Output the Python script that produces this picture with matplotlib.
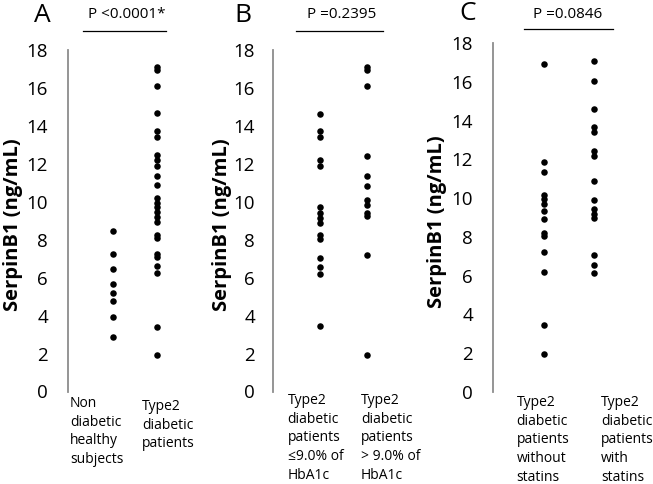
import matplotlib
matplotlib.use("Agg")
import matplotlib.pyplot as plt

# values (ng/mL)
a_non_diabetic = [8.45, 7.25, 6.45, 5.65, 5.2, 4.75, 3.95, 2.85]
a_type2 = [17.1, 16.95, 16.1, 14.7, 13.75, 13.4, 12.45, 12.2, 11.9, 11.35,
           10.9, 10.2, 9.95, 9.7, 9.45, 9.2, 8.95, 8.25, 8.1, 7.25, 7.1,
           6.6, 6.25, 3.4, 1.9]
b_low_hba1c = [14.65, 13.75, 13.4, 12.2, 11.9, 9.7, 9.4, 9.15, 8.9, 8.25,
               8.05, 7.05, 6.55, 6.2, 3.45]
b_high_hba1c = [17.1, 16.95, 16.1, 12.4, 11.35, 10.85, 10.1, 9.85, 9.4,
                9.25, 7.2, 1.9]
c_without = [16.9, 11.85, 11.35, 10.15, 9.95, 9.7, 9.35, 8.9, 8.2, 8.05,
             7.2, 6.2, 3.45, 1.95]
c_with = [17.05, 16.05, 14.6, 13.65, 13.4, 12.45, 12.15, 10.9, 9.9, 9.45,
          9.2, 8.95, 7.05, 6.55, 6.15]

panel_letters = ["A", "B", "C"]
p_values = ["P <0.0001*", "P =0.2395", "P =0.0846"]
group_labels = [
    ["Non\ndiabetic\nhealthy\nsubjects", "Type2\ndiabetic\npatients"],
    ["Type2\ndiabetic\npatients\n\u22649.0% of\nHbA1c",
     "Type2\ndiabetic\npatients\n> 9.0% of\nHbA1c"],
    ["Type2\ndiabetic\npatients\nwithout\nstatins",
     "Type2\ndiabetic\npatients\nwith\nstatins"],
]
yticks = [0, 2, 4, 6, 8, 10, 12, 14, 16, 18]

plt.rcParams['font.family'] = ['Open Sans', 'DejaVu Sans']

W, H = 653, 484
fig = plt.figure(figsize=(W / 100, H / 100), dpi=100)


def fx(x):
    return x / W


def fy(y):
    return 1 - y / H


# axes boxes in pixels: left, top(18), right, bottom(0)
boxes = [(68, 50, 202, 391.5), (272.7, 50, 413.7, 391.5), (493, 43, 644.5, 392)]
tick_pads = [14.4, 12.7, 14.4]
ylabel_x = [13, 222, 437]
letter_pos = [(42, 16), (243, 16), (468, 14)]
pval_pos = [(127, 15), (342, 15), (568, 14)]
pline = [(83, 166, 31), (296, 383, 31), (524, 613, 29)]
label_pos = [[(70, 396), (142, 399)], [(287.5, 393), (361, 393)],
             [(516.5, 395), (601, 395)]]
data = [(a_non_diabetic, a_type2), (b_low_hba1c, b_high_hba1c),
        (c_without, c_with)]

for i, (l, t, r, b) in enumerate(boxes):
    ax = fig.add_axes([fx(l), fy(b), (r - l) / W, (b - t) / H])
    g1, g2 = data[i]
    ax.scatter([1] * len(g1), g1, s=22, color='black', linewidths=0, zorder=3)
    ax.scatter([2] * len(g2), g2, s=22, color='black', linewidths=0, zorder=3)
    ax.set_xlim(0, 3)
    ax.set_ylim(0, 18)
    ax.set_yticks(yticks)
    ax.set_xticks([])
    ax.tick_params(axis='y', length=0, pad=tick_pads[i], labelsize=13.5)
    for s in ['top', 'right', 'bottom']:
        ax.spines[s].set_visible(False)
    ax.spines['left'].set_color('#8c8c8c')
    ax.spines['left'].set_linewidth(1.3)
    ax.patch.set_alpha(0)

    fig.text(fx(ylabel_x[i]), fy((t + b) / 2 + 4), "SerpinB1 (ng/mL)",
             rotation=90, ha='center', va='center', fontsize=14.5,
             fontweight='bold')
    lx, ly = letter_pos[i]
    fig.text(fx(lx), fy(ly), panel_letters[i], ha='center', va='center',
             fontsize=19)
    px, py = pval_pos[i]
    fig.text(fx(px), fy(py), p_values[i], ha='center', va='center', fontsize=11)
    x0, x1, yl = pline[i]
    fig.add_artist(plt.Line2D([fx(x0), fx(x1)], [fy(yl), fy(yl)],
                              color='black', lw=0.9))
    for (gx, gy), txt in zip(label_pos[i], group_labels[i]):
        fig.text(fx(gx), fy(gy), txt, ha='left', va='top', fontsize=10,
                 linespacing=1.33)

fig.savefig("out.png", dpi=100)
